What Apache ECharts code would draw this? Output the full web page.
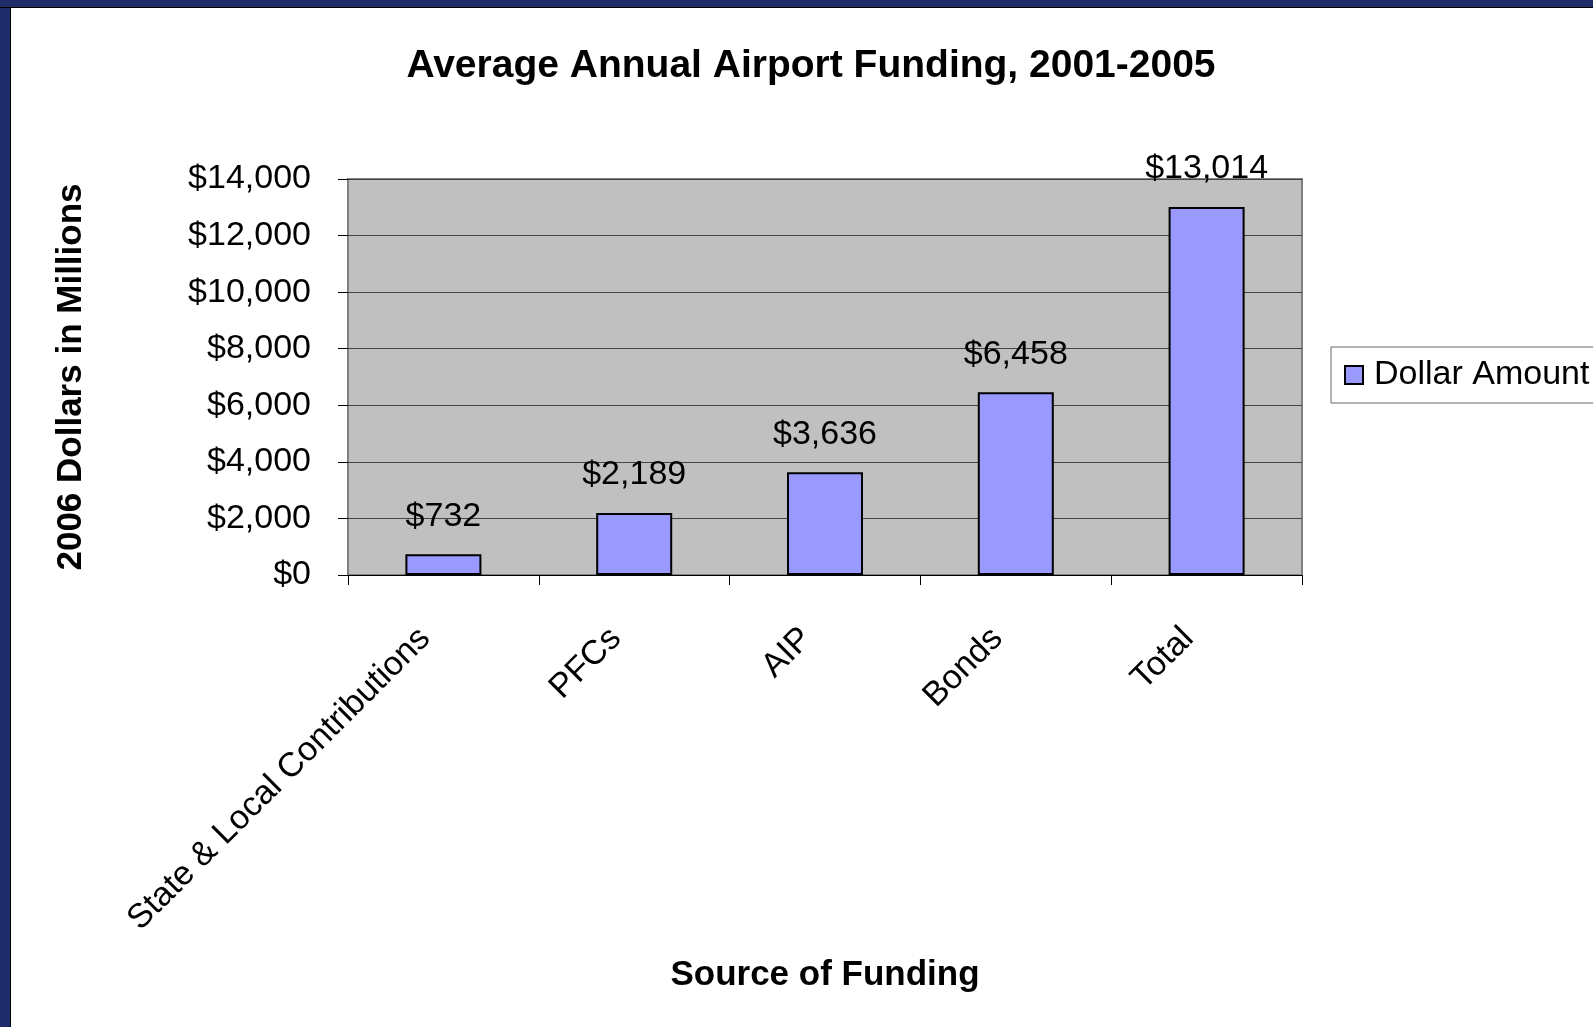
<!DOCTYPE html>
<html>
<head>
<meta charset="utf-8">
<title>Average Annual Airport Funding, 2001-2005</title>
<script src="https://cdn.jsdelivr.net/npm/echarts@6/dist/echarts.min.js"></script>
<style>
    body { margin: 0; background: #fff; }
    #chart { position: absolute; left: 0; top: 0; width: 1593px; height: 1027px; }
    .frame { position: absolute; background: #1E2D6A; pointer-events: none; }
    #frameLeft { left: 0; top: 0; width: 10px; height: 1027px; border-right: 1px solid #000; }
    #frameTop { left: 0; top: 0; width: 1593px; height: 7px; border-bottom: 1px solid #000; }
</style>
</head>
<body>
<div id="chart"></div>
<div class="frame" id="frameLeft"></div>
<div class="frame" id="frameTop"></div>
<script>
// data (2006 dollars, millions)
var categories = ["State & Local Contributions", "PFCs", "AIP", "Bonds", "Total"];
var amounts = [732, 2189, 3636, 6458, 13014];
var seriesName = "Dollar Amount";
var yMin = 0;
var yMax = 14000;
var yStep = 2000;

var FONT = "'Liberation Sans', Arial, sans-serif";

/**
 * $ with thousands separator
 */
function money(v) {
    return "$" + String(v).replace(/\B(?=(\d{3})+(?!\d))/g, ",");
}

function loadBar() {
    var chart = echarts.init(document.getElementById("chart"));
    var option = {
        backgroundColor: "transparent",
        animation: false,
        title: {
            text: "Average Annual Airport Funding, 2001-2005",
            left: 806,
            top: 42,
            textAlign: "center",
            textStyle: {
                fontFamily: FONT,
                fontSize: 39,
                fontWeight: "bold",
                color: "#000"
            }
        },
        legend: {
            data: [seriesName],
            left: 1331,
            top: 347,
            padding: [11, 60, 11, 13],
            icon: "rect",
            itemWidth: 18,
            itemHeight: 18,
            borderColor: "#666",
            borderWidth: 1,
            backgroundColor: "#fff",
            textStyle: {
                fontFamily: FONT,
                fontSize: 34,
                color: "#000",
                padding: [0, 0, 0, 6]
            }
        },
        grid: {
            left: 348,
            right: 291,
            top: 179,
            bottom: 452,
            show: true,
            backgroundColor: "#C0C0C0",
            borderColor: "#808080",
            borderWidth: 2
        },
        xAxis: {
            type: "category",
            data: categories,
            name: "Source of Funding",
            nameLocation: "middle",
            nameGap: 383,
            nameTextStyle: {
                fontFamily: FONT,
                fontSize: 35,
                fontWeight: "bold",
                color: "#000"
            },
            axisLine: { lineStyle: { color: "#000", width: 1 } },
            axisTick: { show: true, length: 10, lineStyle: { color: "#000" } },
            axisLabel: {
                rotate: 45,
                interval: 0,
                margin: 40,
                padding: [0, 26, 0, 0],
                fontFamily: FONT,
                fontSize: 34,
                color: "#000"
            }
        },
        yAxis: {
            type: "value",
            min: yMin,
            max: yMax,
            interval: yStep,
            name: "2006 Dollars in Millions",
            nameLocation: "middle",
            nameGap: 259,
            nameTextStyle: {
                fontFamily: FONT,
                fontSize: 35,
                fontWeight: "bold",
                color: "#000"
            },
            axisLine: { show: false },
            axisTick: { show: true, length: 10, lineStyle: { color: "#000" } },
            axisLabel: {
                margin: 37,
                formatter: money,
                fontFamily: FONT,
                fontSize: 34,
                color: "#000"
            },
            splitLine: { show: true, lineStyle: { color: "#444", width: 1 } }
        },
        series: [
            {
                name: seriesName,
                type: "bar",
                data: amounts,
                barWidth: 76,
                itemStyle: {
                    color: "#9999FF",
                    borderColor: "#000",
                    borderWidth: 2
                },
                label: {
                    show: true,
                    position: "top",
                    distance: 21,
                    formatter: function (p) { return money(p.value); },
                    fontFamily: FONT,
                    fontSize: 34,
                    color: "#000"
                }
            }
        ]
    };
    chart.setOption(option);
}

loadBar();
</script>
</body>
</html>
